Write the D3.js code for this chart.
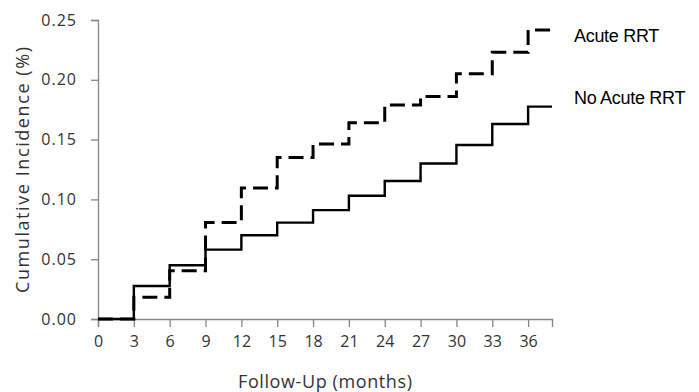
<!DOCTYPE html>
<html>
<head>
<meta charset="utf-8">
<script src="https://cdn.jsdelivr.net/npm/d3@7"></script>
<style>
  body { margin: 0; background: #fff; }
  svg { display: block; }
  .tick text { font-family: "Open Sans", sans-serif; font-size: 16px; fill: #333; }
</style>
</head>
<body>
<svg id="chart" width="699" height="392"></svg>
<script>
// Follow-up months where each step starts
const months = [0, 3, 6, 9, 12, 15, 18, 21, 24, 27, 30, 33, 36];
const lastMonth = 38;

// Cumulative incidence
const acuteRRT   = [0, 0.0181, 0.0404, 0.0806, 0.1095, 0.135, 0.1463, 0.164, 0.179, 0.186, 0.205, 0.223, 0.2416];
const noAcuteRRT = [0, 0.0276, 0.045, 0.058, 0.070, 0.0806, 0.091, 0.103, 0.1154, 0.130, 0.1455, 0.163, 0.1776];

const xTicks = [0, 3, 6, 9, 12, 15, 18, 21, 24, 27, 30, 33, 36];
const yTicks = [0, 0.05, 0.10, 0.15, 0.20, 0.25];

const seriesLabels = ["Acute RRT", "No Acute RRT"];

const axisColor = "#868686";

const svg = d3.select("#chart");

const x = d3.scaleLinear().domain([0, lastMonth]).range([98, 552]);
const y = d3.scaleLinear().domain([0, 0.25]).range([319, 20]);

// axes
const xAxis = svg.append("g")
  .attr("transform", `translate(0,${y(0)})`)
  .call(d3.axisBottom(x).tickValues(xTicks).tickSize(8).tickPadding(6).tickFormat(d3.format("d")));

const yAxis = svg.append("g")
  .attr("transform", `translate(${x(0)},0)`)
  .call(d3.axisLeft(y).tickValues(yTicks).tickSize(7).tickPadding(14).tickFormat(d3.format(".2f")));

[xAxis, yAxis].forEach(a => {
  a.select(".domain").attr("stroke", axisColor).attr("stroke-width", 1.3);
  a.selectAll(".tick line").attr("stroke", axisColor).attr("stroke-width", 1.3);
});
xAxis.selectAll(".tick text").attr("dy", "0.9em");
yAxis.selectAll(".tick text").attr("letter-spacing", "1px");

// step lines
function stepData(vals) {
  const pts = months.map((m, i) => ({ m: m, v: vals[i] }));
  pts.push({ m: lastMonth, v: vals[vals.length - 1] });
  return pts;
}

const line = d3.line()
  .x(d => x(d.m))
  .y(d => y(d.v))
  .curve(d3.curveStepAfter);

svg.append("path")
  .datum(stepData(noAcuteRRT))
  .attr("fill", "none")
  .attr("stroke", "#000")
  .attr("stroke-width", 2.4)
  .attr("d", line);

svg.append("path")
  .datum(stepData(acuteRRT))
  .attr("fill", "none")
  .attr("stroke", "#000")
  .attr("stroke-width", 3)
  .attr("stroke-dasharray", "15,7")
  .attr("d", line);

// series labels at the right
svg.append("text")
  .attr("x", 574)
  .attr("y", 42)
  .attr("font-family", "Liberation Sans, Arial, sans-serif")
  .attr("font-size", 18)
  .attr("letter-spacing", "-0.3px")
  .attr("fill", "#000")
  .text(seriesLabels[0]);

svg.append("text")
  .attr("x", 574)
  .attr("y", 104)
  .attr("font-family", "Liberation Sans, Arial, sans-serif")
  .attr("font-size", 18)
  .attr("letter-spacing", "-0.3px")
  .attr("fill", "#000")
  .text(seriesLabels[1]);

// axis titles
svg.append("text")
  .attr("x", 325)
  .attr("y", 388)
  .attr("text-anchor", "middle")
  .attr("font-family", "Open Sans, sans-serif")
  .attr("font-size", 18)
  .attr("fill", "#333")
  .attr("textLength", 174)
  .attr("lengthAdjust", "spacing")
  .text("Follow-Up (months)");

svg.append("text")
  .attr("transform", "translate(29,170) rotate(-90)")
  .attr("text-anchor", "middle")
  .attr("font-family", "Open Sans, sans-serif")
  .attr("font-size", 18)
  .attr("fill", "#333")
  .attr("textLength", 246)
  .attr("lengthAdjust", "spacing")
  .text("Cumulative Incidence (%)");
</script>
</body>
</html>
